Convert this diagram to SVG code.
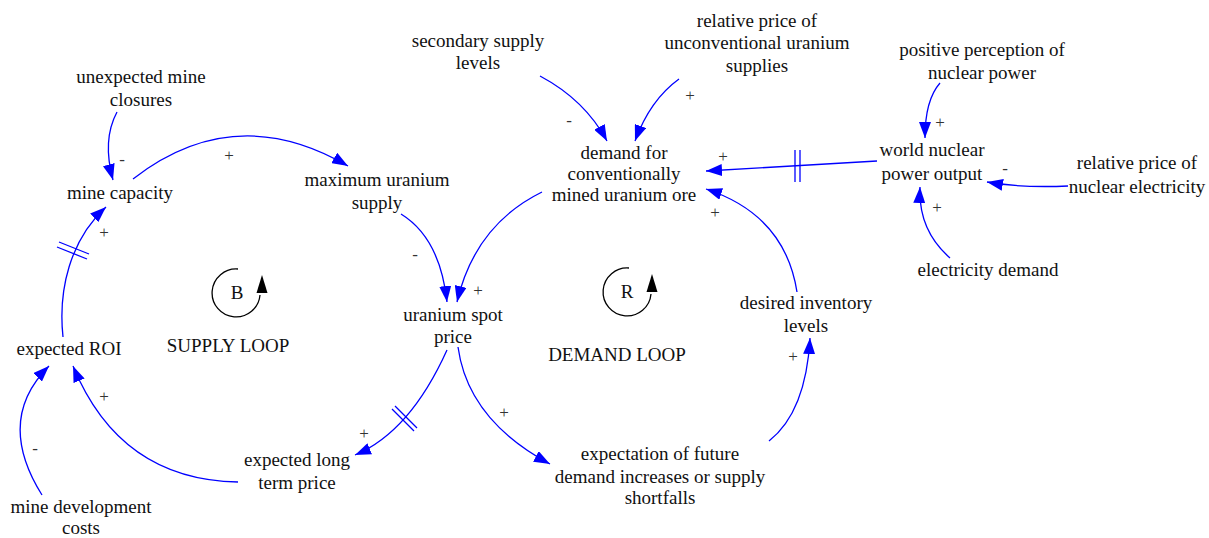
<svg xmlns="http://www.w3.org/2000/svg" width="1209" height="538" viewBox="0 0 1209 538">
<defs>
<marker id="ah" markerUnits="userSpaceOnUse" markerWidth="16" markerHeight="12" refX="16" refY="6" orient="auto">
<path d="M0,0 L16,6 L0,12 z" fill="#0000FF"/>
</marker>
<style>
.lbl{font-family:"Liberation Serif","Times New Roman",serif;font-size:19px;fill:#111;text-anchor:middle}
.pol{font-family:"Liberation Serif","Times New Roman",serif;font-size:17px;fill:#333;text-anchor:middle}
.lnk{fill:none;stroke:#0000FF;stroke-width:1.3;marker-end:url(#ah)}
.dly{stroke:#0000FF;stroke-width:1.3}
.loop{fill:none;stroke:#000;stroke-width:1.3}
</style>
</defs>
<rect width="1209" height="538" fill="#fff"/>

<g id="connectors">
<path class="lnk" d="M117,112 Q102,140 113,180"/>
<path class="lnk" d="M133,179 Q235,100 348,166"/>
<path class="lnk" d="M63,337 C58,290 70,240 106,207"/>
<line class="dly" x1="59" y1="242" x2="89" y2="254"/>
<line class="dly" x1="57" y1="247" x2="87" y2="259"/>
<path class="lnk" d="M401,214 Q440,238 447,302"/>
<path class="lnk" d="M542,192 Q475,225 457,302"/>
<path class="lnk" d="M540,76 Q585,100 607,141"/>
<path class="lnk" d="M679,79 Q650,100 635,141"/>
<path class="lnk" d="M877,161 L706,171"/>
<line class="dly" x1="795" y1="150" x2="795" y2="182"/>
<line class="dly" x1="800" y1="150" x2="800" y2="182"/>
<path class="lnk" d="M797,292 Q785,215 706,189"/>
<path class="lnk" d="M940,83 Q925,100 925,138"/>
<path class="lnk" d="M1068,186 Q1020,188 987,182"/>
<path class="lnk" d="M950,258 Q918,230 920,187"/>
<path class="lnk" d="M447,350 Q410,432 355,455"/>
<line class="dly" x1="392" y1="409" x2="414" y2="431"/>
<line class="dly" x1="395" y1="406" x2="417" y2="428"/>
<path class="lnk" d="M458,347 Q468,420 550,464"/>
<path class="lnk" d="M769,441 Q806,412 810,338"/>
<path class="lnk" d="M238,482 Q120,480 73,366"/>
<path class="lnk" d="M42,495 Q-5,420 49,366"/>
</g>

<g id="polarities">
<text class="pol" x="122" y="165">-</text>
<text class="pol" x="229" y="161">+</text>
<text class="pol" x="104" y="238">+</text>
<text class="pol" x="415" y="260">-</text>
<text class="pol" x="478" y="296">+</text>
<text class="pol" x="569" y="126">-</text>
<text class="pol" x="690" y="101">+</text>
<text class="pol" x="723" y="162">+</text>
<text class="pol" x="715" y="218">+</text>
<text class="pol" x="940" y="128">+</text>
<text class="pol" x="1005" y="174">-</text>
<text class="pol" x="937" y="213">+</text>
<text class="pol" x="364" y="439">+</text>
<text class="pol" x="504" y="418">+</text>
<text class="pol" x="793" y="362">+</text>
<text class="pol" x="104" y="402">+</text>
<text class="pol" x="35" y="454">-</text>
</g>

<g id="loop-B">
<path class="loop" d="M238,269 A24,24 0 1 0 260,295"/>
<path d="M256.5,293 L267.5,293 L262,275 z" fill="#000"/>
<text class="lbl" x="237" y="299">B</text>
</g>
<g id="loop-R">
<path class="loop" d="M629,268 A24,24 0 1 0 651,294"/>
<path d="M646.5,292 L657.5,292 L652,274 z" fill="#000"/>
<text class="lbl" x="627" y="298">R</text>
</g>

<g id="n-unexpected"><text class="lbl" x="141" y="83">unexpected mine</text><text class="lbl" x="141" y="106">closures</text></g>
<g id="n-minecap"><text class="lbl" x="120" y="199">mine capacity</text></g>
<g id="n-maxsupply"><text class="lbl" x="377" y="186">maximum uranium</text><text class="lbl" x="377" y="209">supply</text></g>
<g id="n-secondary"><text class="lbl" x="478" y="47">secondary supply</text><text class="lbl" x="478" y="69">levels</text></g>
<g id="n-unconv"><text class="lbl" x="757" y="27">relative price of</text><text class="lbl" x="757" y="49">unconventional uranium</text><text class="lbl" x="757" y="72">supplies</text></g>
<g id="n-demand"><text class="lbl" x="624" y="159">demand for</text><text class="lbl" x="624" y="180">conventionally</text><text class="lbl" x="624" y="201">mined uranium ore</text></g>
<g id="n-perception"><text class="lbl" x="982" y="56">positive perception of</text><text class="lbl" x="982" y="79">nuclear power</text></g>
<g id="n-world"><text class="lbl" x="932" y="156">world nuclear</text><text class="lbl" x="932" y="180">power output</text></g>
<g id="n-relnuc"><text class="lbl" x="1137" y="169">relative price of</text><text class="lbl" x="1137" y="193">nuclear electricity</text></g>
<g id="n-elecdemand"><text class="lbl" x="988" y="276">electricity demand</text></g>
<g id="n-roi"><text class="lbl" x="69" y="355">expected ROI</text></g>
<g id="n-supplyloop"><text class="lbl" x="228" y="352">SUPPLY LOOP</text></g>
<g id="n-spot"><text class="lbl" x="453" y="321">uranium spot</text><text class="lbl" x="453" y="343">price</text></g>
<g id="n-demandloop"><text class="lbl" x="617" y="361">DEMAND LOOP</text></g>
<g id="n-inventory"><text class="lbl" x="806" y="309">desired inventory</text><text class="lbl" x="806" y="332">levels</text></g>
<g id="n-expectation"><text class="lbl" x="660" y="460">expectation of future</text><text class="lbl" x="660" y="483">demand increases or supply</text><text class="lbl" x="660" y="504">shortfalls</text></g>
<g id="n-longterm"><text class="lbl" x="297" y="466">expected long</text><text class="lbl" x="297" y="489">term price</text></g>
<g id="n-devcosts"><text class="lbl" x="81" y="513">mine development</text><text class="lbl" x="81" y="534">costs</text></g>
</svg>
